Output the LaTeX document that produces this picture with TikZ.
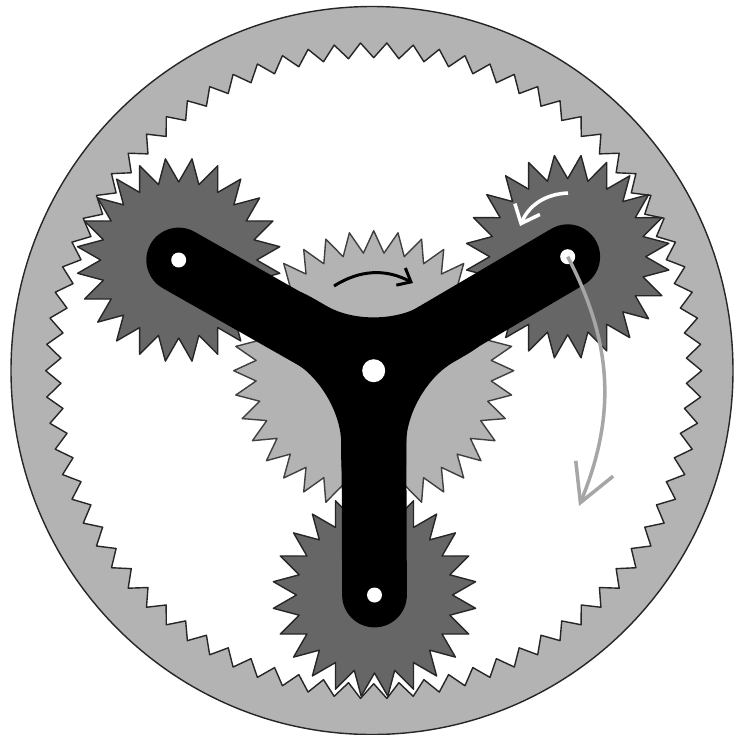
\documentclass[tikz,border=0pt]{standalone}
\usepackage{tikz}
\usetikzlibrary{arrows.meta}
\definecolor{ringgray}{HTML}{B3B3B3}
\definecolor{planetgray}{HTML}{666666}
\definecolor{pathgray}{HTML}{A6A6A6}
\tikzset{
  casing/.style={draw=black!85, line width=0.8pt, fill=ringgray},
  ringteeth/.style={draw=black!85, line width=0.8pt, line join=round, fill=white},
  sungear/.style={draw=black!75, line width=0.8pt, line join=round, fill=ringgray},
  planetgear/.style={draw=black!85, line width=0.8pt, line join=round, fill=planetgray},
  armline/.style={line width=36.85pt, line cap=round, black},
  armfillet/.style={fill=black, rounded corners=1.08cm},
  bighole/.style={circle, fill=white, minimum size=0.46cm, inner sep=0pt},
  smallhole/.style={circle, fill=white, minimum size=0.30cm, inner sep=0pt},
  sunarr/.style={-{Straight Barb[length=6.5pt, width=11pt]}, line width=1.7pt, black},
  planetarr/.style={-{Straight Barb[length=9pt, width=15.5pt]}, line width=2pt, white},
  orbitarr/.style={-{Straight Barb[length=21pt, width=23pt]}, line width=2pt, pathgray},
}
\newcommand{\gearshape}[3]{(0:#2) \foreach \k in {1,...,#1} { -- ({360/#1*(\k-0.5)}:#3) -- ({360/#1*\k}:#2) } -- cycle}

\begin{document}
\begin{tikzpicture}[x=0.02cm, y=-0.02cm]
    \useasboundingbox (0,0) rectangle (734,735);
    \coordinate (sun)     at (373.7,370.7);
    \coordinate (planetA) at (178.7,260);
    \coordinate (planetB) at (567.7,256.7);
    \coordinate (planetC) at (374.5,595);
    % ring
    \draw[casing] (372,370.5) ellipse [x radius=361, y radius=364];
    \draw[ringteeth, shift={(sun)}] \gearshape{78}{328}{313};
    % gears
    \draw[sungear, shift={(sun)}] \gearshape{36}{140}{118};
    \draw[planetgear, shift={(planetA)}, rotate=7.5] \gearshape{24}{102}{78};
    \draw[planetgear, shift={(planetB)}, rotate=7.5] \gearshape{24}{102}{78};
    \draw[planetgear, shift={(planetC)}, rotate=7.5] \gearshape{24}{102}{78};
    % carrier
    \foreach \a in {30,150,270}
      \path[armfillet, shift={(sun)}] (0,0) -- ({\a-46.93}:143.7) -- (\a:37.5) -- ({\a+46.93}:143.7) -- cycle;
    \draw[armline] (sun) -- (planetA);
    \draw[armline] (sun) -- (planetB);
    \draw[armline] (sun) -- (planetC);
    \node[bighole]   (holesun) at (sun) {};
    \node[smallhole] (holeA)   at (planetA) {};
    \node[smallhole] (holeB)   at (planetB) {};
    \node[smallhole] (holeC)   at (planetC) {};
    % arrows
    \coordinate (sunarrA)    at (334,286);
    \coordinate (sunarrB)    at (413,283);
    \coordinate (planetarrA) at (568,193);
    \coordinate (planetarrB) at (520,226);
    \coordinate (orbitarrB)  at (579,506);
    \draw[sunarr] (sunarrA) to[bend left=30] (sunarrB);
    \draw[planetarr] (planetarrA) to[bend right=32] (planetarrB);
    \draw[orbitarr] (holeB.center) to[bend left=25] (orbitarrB);
\end{tikzpicture}
\end{document}
